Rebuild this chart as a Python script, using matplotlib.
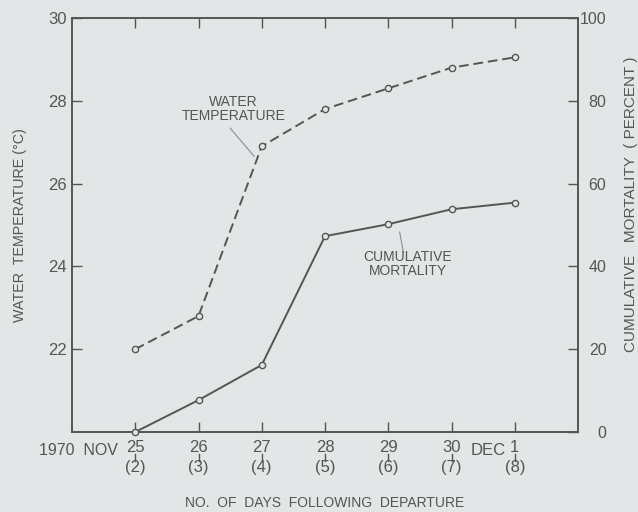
import matplotlib.pyplot as plt
from matplotlib.transforms import blended_transform_factory

# data
dates = [25, 26, 27, 28, 29, 30, 31]
date_labels = ['25', '26', '27', '28', '29', '30', '1']
days_after = ['(2)', '(3)', '(4)', '(5)', '(6)', '(7)', '(8)']
water_temp = [22.0, 22.8, 26.9, 27.8, 28.3, 28.8, 29.05]
mortality = [0.0, 7.7, 16.2, 47.3, 50.2, 53.8, 55.4]

bg = '#e3e6e6'
ink = '#555555'
plt.rcParams['font.family'] = ['Liberation Sans', 'DejaVu Sans']

fig = plt.figure(figsize=(6.38, 5.12), dpi=100, facecolor=bg)
ax = fig.add_axes([72 / 638, 1 - 432 / 512, 506 / 638, 414 / 512])
ax.set_facecolor(bg)
ax2 = ax.twinx()

ax.plot(dates, water_temp, color=ink, lw=1.4, ls=(0, (5, 2.5)), marker='o',
        ms=4.5, mfc=bg, mec=ink, mew=1.0, zorder=3)
ax2.plot(dates, mortality, color=ink, lw=1.4, marker='o',
         ms=4.5, mfc=bg, mec=ink, mew=1.0, zorder=3, clip_on=False)

ax.set_xlim(24, 32)
ax.set_ylim(20, 30)
ax2.set_ylim(0, 100)

ax.set_yticks([22, 24, 26, 28, 30])
ax2.set_yticks([0, 20, 40, 60, 80, 100])
ax2.set_yticklabels([str(v) for v in [0, 20, 40, 60, 80, 100]], ha='right')
ax.set_xticks(dates)
ax.set_xticklabels(date_labels)

for a in (ax, ax2):
    for s in a.spines.values():
        s.set_color(ink)
        s.set_linewidth(1.2)
    a.tick_params(colors=ink, labelcolor=ink, labelsize=12, direction='in',
                  length=7, width=1.0)
ax.tick_params(axis='x', top=True, pad=5.5)
ax.tick_params(axis='y', pad=4)
ax2.tick_params(axis='y', pad=20.5, labelsize=11.5)

tr = blended_transform_factory(ax.transData, ax.transAxes)
for x, n in zip(dates, days_after):
    # small vertical stroke linking date and day number
    ax.plot([x, x], [-0.054, -0.069], transform=tr, color=ink, lw=1.0,
            clip_on=False)
    ax.text(x, -0.0865, n, transform=tr, ha='center', va='center',
            fontsize=12, color=ink)
ax.text(24.73, -0.0265, '1970  NOV', transform=tr, ha='right', va='top',
        fontsize=11.5, color=ink)
ax.text(30.86, -0.0265, 'DEC', transform=tr, ha='right', va='top',
        fontsize=12, color=ink)

ax.set_xlabel('NO.  OF  DAYS  FOLLOWING  DEPARTURE', color=ink, fontsize=10)
ax.xaxis.set_label_coords(0.5, -0.172)
ax.xaxis.label.set_va('center')
ax.set_ylabel('WATER  TEMPERATURE (°C)', color=ink, fontsize=10.3, va='center')
ax.yaxis.set_label_coords(-0.1028, 0.5)
ax2.set_ylabel('CUMULATIVE   MORTALITY  ( PERCENT )', color=ink, fontsize=11,
               va='center')
ax2.yaxis.set_label_coords(1.1047, 0.551)

# curve labels with leader lines
ax.text(26.55, 27.8, 'WATER\nTEMPERATURE', ha='center', va='center',
        fontsize=10, color=ink, linespacing=1.0)
ax.plot([26.5, 26.88], [27.34, 26.66], color='#8a8d8d', lw=0.8)
ax2.text(29.31, 40.5, 'CUMULATIVE\nMORTALITY', ha='center', va='center',
         fontsize=10, color=ink, linespacing=1.0)
ax2.plot([29.18, 29.24], [48.3, 43.4], color='#8a8d8d', lw=0.8)

fig.savefig('out.png', dpi=100, facecolor=bg)
